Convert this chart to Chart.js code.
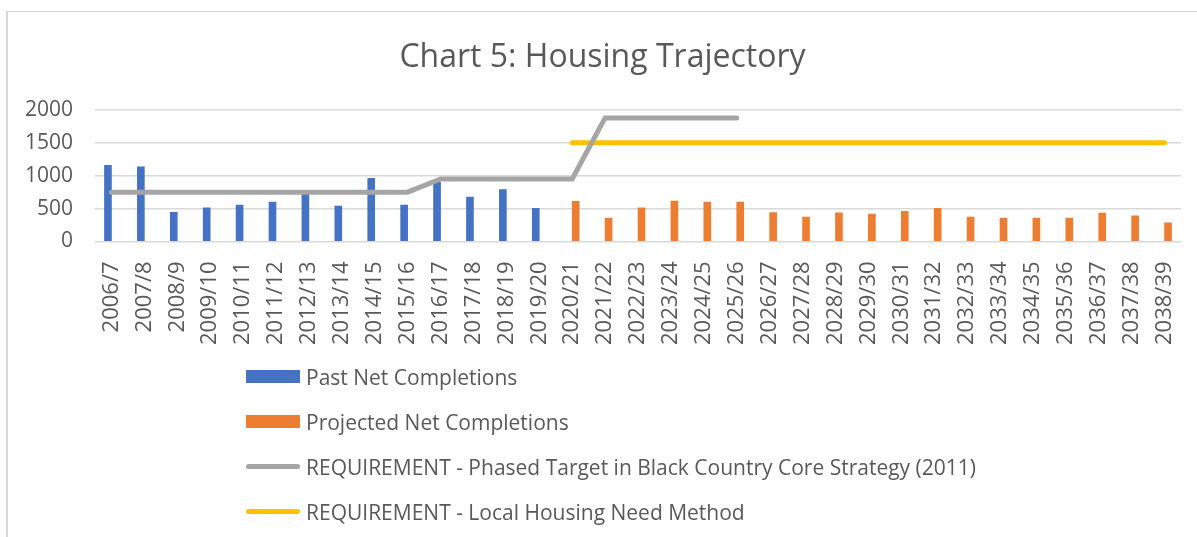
<!DOCTYPE html>
<html>
<head>
<meta charset="utf-8">
<script src="https://cdn.jsdelivr.net/npm/chart.js@4.4.1/dist/chart.umd.min.js"></script>
<style>
  html, body { margin: 0; padding: 0; background: #ffffff; }
  #wrap { position: relative; width: 1197px; height: 537px; overflow: hidden; font-family: "Open Sans", sans-serif; }
  #frame { position: absolute; left: 6px; top: 11px; width: 1300px; height: 600px; border-left: 2px solid #d9d9d9; border-top: 1px solid #d9d9d9; }
  #chartBox { position: absolute; left: 0; top: 0; width: 1197px; height: 365px; }
  #legend { position: absolute; left: 246px; top: 354px; }
  .item { height: 45px; display: flex; align-items: center; color: #595959; font-size: 21px; }
  .swatch { width: 54px; margin-right: 6px; }
</style>
</head>
<body>
<div id="wrap">
  <div id="frame"></div>
  <div id="chartBox"><canvas id="housing-chart"></canvas></div>
  <div id="legend"></div>
</div>
<script>
var years = ['2006/7', '2007/8', '2008/9', '2009/10', '2010/11', '2011/12', '2012/13', '2013/14',
  '2014/15', '2015/16', '2016/17', '2017/18', '2018/19', '2019/20', '2020/21', '2021/22',
  '2022/23', '2023/24', '2024/25', '2025/26', '2026/27', '2027/28', '2028/29', '2029/30',
  '2030/31', '2031/32', '2032/33', '2033/34', '2034/35', '2035/36', '2036/37', '2037/38', '2038/39'];

var pastCompletions = [1160, 1135, 445, 510, 555, 600, 720, 540, 960, 555, 900, 675, 790, 505,
  null, null, null, null, null, null, null, null, null, null, null, null, null, null, null, null, null, null, null];

var projectedCompletions = [null, null, null, null, null, null, null, null, null, null, null, null, null, null,
  610, 355, 510, 615, 600, 600, 440, 370, 435, 415, 460, 505, 370, 355, 355, 355, 430, 390, 285];

var phasedTarget = [750, 750, 750, 750, 750, 750, 750, 750, 750, 750,
  950, 950, 950, 950, 950,
  1880, 1880, 1880, 1880, 1880,
  null, null, null, null, null, null, null, null, null, null, null, null, null];

var localHousingNeed = [null, null, null, null, null, null, null, null, null, null, null, null, null, null,
  1500, 1500, 1500, 1500, 1500, 1500, 1500, 1500, 1500, 1500, 1500, 1500, 1500, 1500, 1500, 1500, 1500, 1500, 1500];

var yTicks = [0, 500, 1000, 1500, 2000];

var textColor = '#595959';

var ctx = document.getElementById('housing-chart').getContext('2d');

var chart = new Chart(ctx, {
  type: 'bar',
  data: {
    labels: years,
    datasets: [{
      label: 'Past Net Completions',
      data: pastCompletions,
      backgroundColor: '#4472c4',
      barThickness: 7,
      order: 2
    }, {
      label: 'Projected Net Completions',
      data: projectedCompletions,
      backgroundColor: '#ed7d31',
      barThickness: 7,
      order: 2
    }, {
      type: 'line',
      label: 'REQUIREMENT - Phased Target in Black Country Core Strategy (2011)',
      data: phasedTarget,
      borderColor: '#a5a5a5',
      backgroundColor: '#a5a5a5',
      borderWidth: 5,
      borderCapStyle: 'round',
      pointRadius: 0,
      tension: 0,
      order: 1
    }, {
      type: 'line',
      label: 'REQUIREMENT - Local Housing Need Method',
      data: localHousingNeed,
      borderColor: '#ffc000',
      backgroundColor: '#ffc000',
      borderWidth: 5,
      borderCapStyle: 'round',
      pointRadius: 0,
      tension: 0,
      order: 1
    }]
  },
  options: {
    responsive: true,
    maintainAspectRatio: false,
    animation: false,
    layout: {
      autoPadding: false,
      padding: { left: 24, right: 16, top: 0, bottom: 0 }
    },
    plugins: {
      title: {
        display: true,
        text: 'Chart 5: Housing Trajectory',
        color: textColor,
        font: { family: 'Open Sans', size: 32, weight: 'normal' },
        padding: { top: 39, bottom: 32.6 }
      },
      legend: { display: false },
      tooltip: { enabled: false }
    },
    scales: {
      x: {
        afterFit: function (axis) {
          // rotated labels fit inside the category, no extra side room needed
          axis.paddingLeft = 0;
          axis.paddingRight = 0;
        },
        grid: { display: false, drawTicks: false },
        border: { display: false },
        ticks: {
          color: textColor,
          font: { family: 'Open Sans', size: 22 },
          minRotation: 90,
          maxRotation: 90,
          autoSkip: false,
          padding: 20
        }
      },
      y: {
        min: 0,
        max: 2000,
        afterBuildTicks: function (axis) {
          axis.ticks = yTicks.map(function (v) { return { value: v }; });
        },
        afterFit: function (axis) {
          axis.width = 71;
        },
        grid: { color: '#d9d9d9', lineWidth: 1.5, drawTicks: false },
        border: { display: false },
        ticks: {
          color: textColor,
          font: { family: 'Open Sans', size: 21 },
          padding: 22,
          callback: function (value) { return String(value); }
        }
      }
    }
  }
});

// legend as a vertical list, one entry per row, like the original
var legendBox = document.getElementById('legend');
chart.data.datasets.forEach(function (ds) {
  var row = document.createElement('div');
  row.className = 'item';
  var sw = document.createElement('span');
  sw.className = 'swatch';
  if (ds.type === 'line') {
    sw.style.height = '5px';
    sw.style.borderRadius = '3px';
    sw.style.background = ds.borderColor;
  } else {
    sw.style.height = '13px';
    sw.style.background = ds.backgroundColor;
  }
  var txt = document.createElement('span');
  txt.textContent = ds.label;
  row.appendChild(sw);
  row.appendChild(txt);
  legendBox.appendChild(row);
});
</script>
</body>
</html>
